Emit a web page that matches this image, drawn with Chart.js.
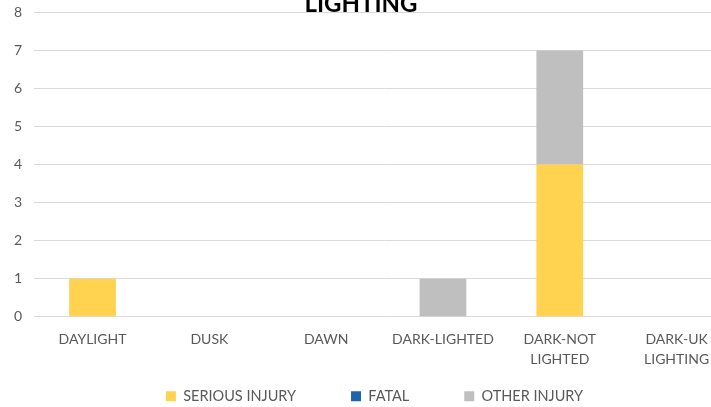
<!DOCTYPE html>
<html>
<head>
<meta charset="utf-8">
<script src="https://cdn.jsdelivr.net/npm/chart.js@4"></script>
<style>
  html, body { margin: 0; padding: 0; background: #fff; overflow: hidden; }
  body { width: 711px; height: 407px; position: relative; }
  .wrap { position: absolute; left: 0; top: -8px; width: 740px; height: 415px; }
  .title {
    position: absolute; left: 0; width: 722px; top: -12px; text-align: center;
    font: bold 24px Lato, sans-serif; color: #000; z-index: 2;
  }
</style>
</head>
<body>
<div class="title">LIGHTING</div>
<div class="wrap"><canvas id="chart"></canvas></div>
<script>
const categories = ["DAYLIGHT", "DUSK", "DAWN", "DARK-LIGHTED", ["DARK-NOT", "LIGHTED"], ["DARK-UK", "LIGHTING"]];
const seriousInjury = [1, 0, 0, 0, 4, 0];
const fatal = [0, 0, 0, 0, 0, 0];
const otherInjury = [0, 0, 0, 1, 3, 0];
const yTicks = [0, 1, 2, 3, 4, 5, 6, 7, 8];

const LEGEND_GAP = 55;
const LEGEND_HEIGHT = 33;

// legend padding is used both between items and above/below them;
// keep the wide gap between items but a short legend box
const legendFit = {
  id: "legendFit",
  beforeInit(chart) {
    const fit = chart.legend.fit;
    chart.legend.fit = function () {
      fit.call(this);
      this.height = LEGEND_HEIGHT;
    };
  },
  beforeDraw(chart) {
    const legend = chart.legend;
    legend.top = legend.bottom - 18 - LEGEND_GAP;
    legend.left = 8;
    legend.right = chart.width + 1;
  },
};

const ctx = document.getElementById("chart").getContext("2d");

new Chart(ctx, {
  type: "bar",
  data: {
    labels: categories,
    datasets: [
      { label: "SERIOUS INJURY", data: seriousInjury, backgroundColor: "#FFD34F" },
      { label: "FATAL", data: fatal, backgroundColor: "#1F64AE" },
      { label: "OTHER INJURY", data: otherInjury, backgroundColor: "#BFBFBF" },
    ],
  },
  options: {
    responsive: true,
    maintainAspectRatio: false,
    animation: false,
    datasets: { bar: { categoryPercentage: 1, barPercentage: 0.4 } },
    layout: { padding: { top: 0, left: 2, right: 5, bottom: 0 } },
    plugins: {
      legend: {
        position: "bottom",
        labels: {
          boxWidth: 10, boxHeight: 10, padding: LEGEND_GAP,
          color: "#595959",
          font: { family: "Lato", size: 14.5 },
        },
      },
      tooltip: { enabled: false },
    },
    scales: {
      x: {
        stacked: true,
        grid: { display: false },
        border: { display: false },
        ticks: { color: "#595959", font: { family: "Lato", size: 14, lineHeight: 1.4 }, maxRotation: 0, autoSkip: false, padding: 5 },
      },
      y: {
        stacked: true,
        min: 0,
        max: yTicks[yTicks.length - 1],
        afterBuildTicks: (axis) => { axis.ticks = yTicks.map((v) => ({ value: v })); },
        grid: { color: "#D9D9D9", drawTicks: false },
        border: { display: false },
        ticks: { color: "#595959", font: { family: "Lato", size: 14 }, padding: 12 },
      },
    },
  },
  plugins: [legendFit],
});
</script>
</body>
</html>
